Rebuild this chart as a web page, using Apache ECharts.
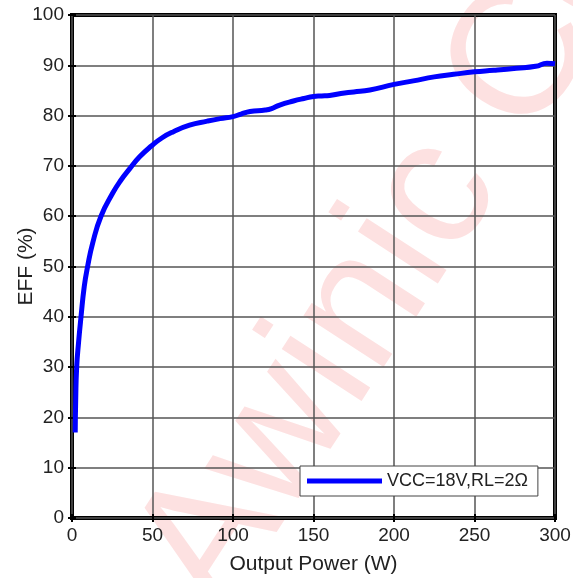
<!DOCTYPE html>
<html>
<head>
<meta charset="utf-8">
<script src="https://cdn.jsdelivr.net/npm/echarts@6/dist/echarts.min.js"></script>
<style>
html,body{margin:0;padding:0;background:#fff;}
#c{width:573px;height:578px;}
</style>
</head>
<body>
<div id="c"></div>
<script>
var seriesName = 'VCC=18V,RL=2Ω';
var powerW = [2, 2.3, 2.9, 4.1, 5.6, 7.6, 9.7, 12.8, 18, 25.3, 30, 36, 42, 49.5, 56, 63, 73, 84, 92, 100, 105, 110.6, 120, 124, 129, 137.5, 144, 150, 155, 160, 167, 175, 185, 200, 212, 225, 237, 250, 262, 276, 288, 295, 300];
var effPct = [17, 23.5, 30, 35, 40, 46, 50, 54.6, 60, 64.6, 67, 69.5, 71.8, 74.0, 75.6, 76.8, 78.1, 78.9, 79.4, 79.8, 80.3, 80.8, 81.1, 81.4, 82.1, 82.9, 83.4, 83.8, 83.9, 84.0, 84.4, 84.7, 85.1, 86.2, 86.9, 87.7, 88.2, 88.7, 89.0, 89.4, 89.8, 90.4, 90.3];
var xTicks = [0, 50, 100, 150, 200, 250, 300];
var yTicks = [0, 10, 20, 30, 40, 50, 60, 70, 80, 90, 100];

var pts = powerW.map(function (x, i) { return [x, effPct[i]]; });
var FONT = 'Liberation Sans, Arial, sans-serif';
var chart = echarts.init(document.getElementById('c'), null, {renderer: 'canvas'});

var baseX = {
  type: 'value', min: xTicks[0], max: xTicks[xTicks.length - 1], interval: 50
};
var baseY = {
  type: 'value', min: yTicks[0], max: yTicks[yTicks.length - 1], interval: 10
};

chart.setOption({
  backgroundColor: '#ffffff',
  animation: false,
  graphic: [{
    type: 'text',
    z: -10,
    x: 179, y: 591,
    rotation: 57 * Math.PI / 180,
    style: {
      text: 'Awinic Confidential',
      font: '180px ' + FONT,
      fill: '#fde1e1',
      textAlign: 'left',
      textVerticalAlign: 'middle'
    }
  }],
  grid: {
    left: 72, right: 18, top: 15, bottom: 60,
    containLabel: false, outerBoundsMode: 'none',
    show: true, borderColor: '#000', borderWidth: 4, backgroundColor: 'transparent'
  },
  legend: {
    left: 300, top: 466,
    padding: [6, 10, 6, 7],
    itemWidth: 75, itemHeight: 5, itemGap: 0,
    icon: 'rect',
    borderColor: '#444', borderWidth: 1, backgroundColor: '#fff',
    textStyle: {fontFamily: FONT, fontSize: 18, color: '#222', padding: [0, 0, 0, 0]},
    data: [seriesName]
  },
  xAxis: [
    Object.assign({}, baseX, {
      position: 'bottom',
      name: 'Output Power (W)', nameLocation: 'middle', nameGap: 36,
      nameMoveOverlap: false,
      nameTextStyle: {fontFamily: FONT, fontSize: 21, color: '#222'},
      axisLine: {show: false},
      axisTick: {show: true, inside: true, length: 4, lineStyle: {color: '#000', width: 2}},
      axisLabel: {fontFamily: FONT, fontSize: 19, color: '#222', margin: 8},
      splitLine: {show: true, lineStyle: {color: '#555', width: 1.5}}
    }),
    Object.assign({}, baseX, {
      position: 'top',
      axisLine: {show: false},
      axisTick: {show: true, inside: true, length: 4, lineStyle: {color: '#000', width: 2}},
      axisLabel: {show: false},
      splitLine: {show: false}
    })
  ],
  yAxis: [
    Object.assign({}, baseY, {
      position: 'left',
      name: 'EFF (%)', nameLocation: 'middle', nameGap: 35,
      nameMoveOverlap: false,
      nameTextStyle: {fontFamily: FONT, fontSize: 21, color: '#222'},
      axisLine: {show: false},
      axisTick: {show: true, inside: true, length: 4, lineStyle: {color: '#000', width: 2}},
      axisLabel: {fontFamily: FONT, fontSize: 19, color: '#222', margin: 8},
      splitLine: {show: true, lineStyle: {color: '#555', width: 1.5}}
    }),
    Object.assign({}, baseY, {
      position: 'right',
      axisLine: {show: false},
      axisTick: {show: true, inside: true, length: 4, lineStyle: {color: '#000', width: 2}},
      axisLabel: {show: false},
      splitLine: {show: false}
    })
  ],
  series: [{
    name: seriesName,
    type: 'line',
    xAxisIndex: 0, yAxisIndex: 0,
    data: pts,
    smooth: 0.5,
    showSymbol: false,
    symbol: 'none',
    z: 5,
    lineStyle: {color: '#0000ff', width: 5},
    itemStyle: {color: '#0000ff'}
  }]
});
</script>
</body>
</html>
